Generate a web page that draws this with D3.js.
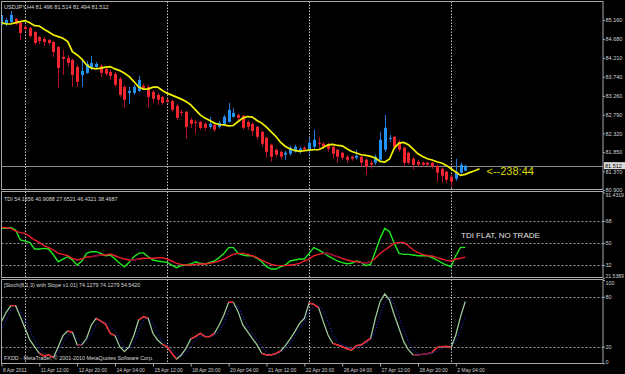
<!DOCTYPE html>
<html>
<head>
<meta charset="utf-8">
<script src="https://cdn.jsdelivr.net/npm/d3@7"></script>
<style>
  html, body { margin: 0; padding: 0; background: #000; }
  svg { display: block; font-family: "Liberation Sans", Arial, sans-serif; }
</style>
</head>
<body>
<svg id="chart" width="625" height="374"></svg>
<script>
// USDJPY H4, 99 bars from 8 Apr 2011 04:00 to 2 May 2011 12:00
const opens = [85.035, 85.06, 85.11, 85.185, 85.085, 84.985, 84.96, 84.86, 84.735, 84.685,
  84.66, 84.61, 84.485, 84.235, 84.21, 84.16, 83.985, 83.785, 83.835, 83.96,
  83.985, 84.01, 83.935, 83.86, 83.81, 83.685, 83.485, 83.335, 83.335, 83.385,
  83.51, 83.485, 83.36, 83.285, 83.235, 83.16, 83.135, 83.01, 82.86, 82.86,
  82.66, 82.61, 82.61, 82.56, 82.485, 82.535, 82.485, 82.56, 82.61, 82.735,
  82.785, 82.76, 82.61, 82.56, 82.485, 82.36, 82.21, 82.035, 81.91, 81.86,
  81.785, 81.81, 81.86, 81.86, 81.96, 81.91, 81.985, 82.085, 82.06, 82.035,
  81.985, 81.91, 81.835, 81.735, 81.735, 81.71, 81.735, 81.66, 81.585, 81.585,
  81.66, 81.91, 82.185, 82.235, 82.11, 81.96, 81.835, 81.685, 81.61, 81.585,
  81.585, 81.585, 81.51, 81.435, 81.36, 81.235, 81.185, 81.335, 81.385]
const highs = [85.335, 85.21, 85.385, 85.21, 85.135, 85.01, 84.985, 84.885, 84.76, 84.735,
  84.685, 84.635, 84.51, 84.41, 84.285, 84.185, 84.035, 84.16, 84.135, 84.26,
  84.11, 84.06, 83.985, 83.91, 83.86, 83.735, 83.535, 83.485, 83.535, 83.76,
  83.56, 83.535, 83.41, 83.335, 83.26, 83.185, 83.16, 83.06, 82.91, 82.885,
  82.71, 82.66, 82.635, 82.61, 82.735, 82.585, 82.635, 82.785, 83.085, 82.96,
  82.81, 82.785, 82.635, 82.585, 82.51, 82.385, 82.235, 82.06, 81.935, 81.885,
  81.885, 82.01, 82.035, 81.985, 82.01, 82.21, 82.41, 82.235, 82.11, 82.085,
  82.01, 81.935, 81.86, 81.785, 81.76, 81.91, 81.76, 81.685, 81.635, 81.785,
  82.36, 82.785, 82.285, 82.26, 82.16, 81.985, 81.86, 81.735, 81.66, 81.61,
  81.61, 81.61, 81.535, 81.46, 81.385, 81.285, 81.685, 81.585, 81.535]
const lows = [84.985, 85.01, 85.085, 85.035, 84.66, 84.885, 84.71, 84.535, 84.56, 84.51,
  84.535, 84.235, 83.46, 83.785, 83.985, 83.485, 83.485, 83.485, 83.81, 83.91,
  83.935, 83.735, 83.76, 83.66, 83.485, 83.235, 82.96, 83.06, 83.285, 83.36,
  83.41, 82.96, 83.085, 83.035, 83.035, 83.085, 82.86, 82.66, 82.76, 82.185,
  82.46, 82.31, 82.41, 82.385, 82.435, 82.36, 82.435, 82.51, 82.585, 82.71,
  82.66, 82.41, 82.41, 82.26, 82.16, 81.985, 81.71, 81.61, 81.71, 81.66,
  81.66, 81.76, 81.835, 81.81, 81.86, 81.785, 81.935, 81.96, 81.935, 81.86,
  81.685, 81.585, 81.66, 81.585, 81.635, 81.66, 81.485, 81.285, 81.435, 81.535,
  81.635, 81.86, 82.11, 81.91, 81.86, 81.485, 81.535, 81.41, 81.485, 81.485,
  81.485, 81.435, 81.11, 81.085, 81.085, 80.985, 81.135, 81.31, 81.385]
const closes = [85.285, 85.16, 85.285, 85.06, 84.835, 84.935, 84.76, 84.585, 84.635, 84.61,
  84.585, 84.36, 83.96, 84.185, 84.085, 83.785, 83.61, 83.885, 84.06, 84.085,
  84.06, 83.835, 83.81, 83.76, 83.535, 83.285, 83.16, 83.385, 83.485, 83.66,
  83.46, 83.235, 83.185, 83.16, 83.085, 83.11, 82.91, 82.71, 82.835, 82.485,
  82.56, 82.585, 82.46, 82.46, 82.56, 82.41, 82.585, 82.735, 82.91, 82.835,
  82.71, 82.46, 82.485, 82.385, 82.235, 82.06, 81.86, 81.735, 81.785, 81.735,
  81.835, 81.96, 81.985, 81.935, 81.91, 82.085, 82.16, 82.06, 81.985, 81.935,
  81.81, 81.735, 81.71, 81.66, 81.685, 81.76, 81.585, 81.485, 81.535, 81.735,
  82.16, 82.46, 82.21, 81.985, 81.91, 81.585, 81.585, 81.535, 81.535, 81.535,
  81.535, 81.485, 81.335, 81.26, 81.16, 81.11, 81.36, 81.535, 81.51]

// Shifted moving average (runs 3 bars past the last candle)
const maValues = [85.093, 85.06, 85.06, 85.093, 85.118, 85.143, 85.093, 85.018, 85.01, 84.928,
  84.86, 84.785, 84.743, 84.703, 84.618, 84.368, 84.285, 84.178, 84.035, 83.953,
  83.935, 83.953, 83.978, 83.993, 83.935, 83.893, 83.828, 83.743, 83.618, 83.478,
  83.428, 83.428, 83.478, 83.478, 83.393, 83.328, 83.278, 83.228, 83.178, 83.118,
  83.035, 82.91, 82.785, 82.703, 82.643, 82.578, 82.543, 82.535, 82.51, 82.518,
  82.618, 82.703, 82.743, 82.728, 82.643, 82.578, 82.478, 82.36, 82.243, 82.093,
  81.993, 81.928, 81.893, 81.868, 81.885, 81.903, 81.91, 81.91, 81.968, 82.035,
  82.043, 82.018, 82.01, 81.935, 81.868, 81.828, 81.785, 81.768, 81.743, 81.703,
  81.618, 81.603, 81.678, 81.953, 82.078, 82.093, 82.035, 81.928, 81.81, 81.743,
  81.685, 81.653, 81.61, 81.578, 81.518, 81.435, 81.353, 81.268, 81.293, 81.343,
  81.385, 81.435]

// TDI: RSI price line (green) and trade signal line (red)
const tdiRsi = [62.0, 62.0, 62.8, 60.6, 52.5, 51.6, 50.5, 45.1, 45.1, 45.6,
  45.1, 40.2, 34.7, 36.9, 38.8, 36.1, 32.0, 35.3, 41.5, 42.9,
  42.9, 41.5, 39.6, 40.2, 36.9, 33.4, 30.6, 34.2, 38.8, 41.5,
  42.1, 38.8, 36.1, 35.3, 34.7, 34.2, 32.0, 29.8, 31.5, 32.0,
  32.8, 34.7, 33.4, 32.8, 34.2, 35.3, 38.0, 41.5, 46.2, 46.2,
  41.5, 40.2, 39.6, 39.6, 37.5, 34.7, 30.6, 28.7, 28.7, 30.6,
  32.0, 35.3, 36.1, 36.9, 36.9, 41.5, 46.2, 44.3, 42.1, 39.4,
  37.5, 35.3, 33.9, 33.1, 33.4, 35.3, 34.2, 31.5, 32.6, 42.9,
  53.8, 62.0, 59.3, 49.7, 41.5, 40.7, 40.7, 40.2, 39.6, 39.6,
  39.6, 38.0, 36.1, 33.9, 32.0, 30.6, 39.6, 46.4, 46.43]
const tdiSignal = [62.8, 62.5, 62.0, 59.8, 58.5, 57.9, 55.2, 52.5, 50.5, 47.8,
  46.2, 44.3, 41.5, 40.7, 39.6, 37.5, 36.1, 36.9, 38.6, 38.8,
  39.6, 40.2, 40.2, 41.0, 39.6, 38.0, 36.9, 36.1, 36.1, 36.9,
  37.5, 37.5, 37.5, 38.0, 38.0, 36.9, 35.3, 33.4, 32.5, 32.0,
  32.0, 32.5, 32.8, 32.8, 33.4, 34.2, 35.3, 36.9, 38.8, 40.7,
  41.5, 41.5, 40.7, 39.6, 38.0, 36.1, 34.2, 32.5, 31.7, 31.5,
  31.5, 32.0, 32.5, 33.4, 35.3, 36.9, 39.6, 40.7, 41.5, 41.5,
  40.2, 38.8, 37.5, 36.1, 35.3, 34.7, 34.2, 33.6, 34.7, 37.5,
  41.5, 44.3, 47.0, 49.7, 50.5, 50.5, 47.8, 44.3, 42.1, 40.7,
  39.6, 39.4, 38.0, 36.9, 35.8, 35.3, 36.9, 37.5, 38.47]
const tdiFlatSpans = [[19, 21], [27, 29], [68, 71], [76, 78]]

// Stochastic with slope: main line and signal line
const stochMain = [50, 61.2, 69.2, 69.2, 56, 42, 28, 20, 12, 8.8,
  10, 6.8, 20, 33.2, 38.8, 37.2, 22, 22, 30, 46,
  54, 50.8, 46.8, 36, 33.2, 20, 14, 20, 34, 52,
  56, 54, 36, 28, 22.8, 20, 12, 5.2, 10, 18,
  29.2, 32, 36, 32, 32, 36, 46, 58, 73.2, 73.2,
  62, 46, 38, 30, 22, 12, 10, 10, 12, 14.8,
  21.2, 29.2, 38, 48, 54, 72.4, 70.8, 66.8, 50, 34,
  24, 22, 20, 17.2, 16, 21.2, 22, 26, 30, 54,
  74, 83.2, 76, 58, 42, 26, 16, 10, 10, 10.8,
  11.6, 13.2, 18.8, 20, 20.4, 18.8, 34, 56, 74.13]
const stochSignal = [40, 52, 64, 68, 64, 52, 40, 28, 18, 12,
  10, 8, 12, 24, 34, 37.2, 30, 24, 26, 34.8,
  46, 50, 49.2, 44, 38, 28, 18.8, 17.2, 24, 40,
  52, 54.8, 48, 36, 26.8, 22, 17.2, 10.8, 8, 12,
  20, 28, 32, 33.2, 32, 33.2, 38.8, 48, 62, 70,
  68, 56, 44, 36, 28, 20, 13.2, 10, 10.8, 13.2,
  17.2, 24, 32, 41.2, 50, 62, 69.2, 69.2, 62.8, 50,
  34.8, 26, 22, 20, 18, 18.8, 20, 24, 26.8, 38,
  58, 74, 80, 70, 56, 40, 26, 16, 12, 10,
  10.8, 12, 14.8, 18, 19.6, 20, 26, 40, 54.54]
const stochRedSpans = [[2, 3], [8, 11], [14, 15], [20, 24], [29, 31], [34, 37], [40, 45],
  [48, 49], [55, 59], [65, 67], [70, 78], [91, 95]]
const stochDarkSpans = [[16, 17], [87, 91]]

// Axes
const priceTicks = [85.16, 84.68, 84.21, 83.74, 83.26, 82.79, 82.32, 81.85, 81.37, 80.90]
const tdiTicks = [91.4319, 68, 50, 32, 21.5389]
const tdiLevels = [68, 50, 32]
const stochTicks = [100, 80, 20, 0]
const stochLevels = [80, 20]
const weekStartBars = [5, 35, 65, 95]
const timeLabelBars = [0, 8, 16, 24, 32, 40, 48, 56, 64, 72, 80, 88, 96]
const timeLabels = ['8 Apr 2011', '11 Apr 12:00', '12 Apr 20:00', '14 Apr 04:00', '15 Apr 12:00',
  '18 Apr 20:00', '20 Apr 04:00', '21 Apr 12:00', '22 Apr 20:00', '26 Apr 04:00',
  '27 Apr 12:00', '28 Apr 20:00', '2 May 04:00']
const bidPrice = 81.512

const svg = d3.select('#chart')
const plotRight = 603

const x = d3.scaleLinear().domain([-0.3, 127.1]).range([0, plotRight])
const yPrice = d3.scaleLinear().domain([80.9, 85.16]).range([190.1, 20])
const yTdi = d3.scaleLinear().domain([21.5389, 91.4319]).range([277.8, 192.4])
const yStoch = d3.scaleLinear().domain([0, 100]).range([363.3, 280])

// Three windows: price, TDI, stochastic
const panes = [
  { top: 1.5, bottom: 189.5 },
  { top: 191.5, bottom: 277.5 },
  { top: 279.5, bottom: 363.5 }
]

svg.append('rect').attr('width', 625).attr('height', 374).attr('fill', '#000')

panes.forEach((p, i) => {
  svg.append('clipPath').attr('id', 'clip' + i)
    .append('rect')
    .attr('x', 1.5).attr('y', p.top)
    .attr('width', plotRight - 1.5).attr('height', p.bottom - p.top)
})

// weekly separators, dotted
panes.forEach(p => {
  svg.append('g')
    .selectAll('line')
    .data(weekStartBars)
    .join('line')
    .attr('x1', d => Math.round(x(d)) + 0.5)
    .attr('x2', d => Math.round(x(d)) + 0.5)
    .attr('y1', p.top)
    .attr('y2', p.bottom)
    .attr('stroke', '#c8c8c8')
    .attr('stroke-dasharray', '1.5,1.5')
})

// level lines in the indicator windows
const levelLines = (levels, scale) => {
  svg.append('g')
    .selectAll('line')
    .data(levels)
    .join('line')
    .attr('x1', 1.5)
    .attr('x2', plotRight)
    .attr('y1', d => Math.round(scale(d)) + 0.5)
    .attr('y2', d => Math.round(scale(d)) + 0.5)
    .attr('stroke', '#9a9a9a')
    .attr('stroke-dasharray', '2,2')
}
levelLines(tdiLevels, yTdi)
levelLines(stochLevels, yStoch)

// bid line
svg.append('line')
  .attr('x1', 1.5).attr('x2', plotRight)
  .attr('y1', Math.round(yPrice(bidPrice)) + 0.5)
  .attr('y2', Math.round(yPrice(bidPrice)) + 0.5)
  .attr('stroke', '#8c8c8c')

// candles
const candles = opens.map((o, i) => ({ i, o, h: highs[i], l: lows[i], c: closes[i] }))
const mainG = svg.append('g').attr('clip-path', 'url(#clip0)')

mainG.append('g')
  .selectAll('line')
  .data(candles)
  .join('line')
  .attr('x1', d => Math.round(x(d.i)) + 0.5)
  .attr('x2', d => Math.round(x(d.i)) + 0.5)
  .attr('y1', d => yPrice(d.h))
  .attr('y2', d => yPrice(d.l))
  .attr('stroke', d => d.c >= d.o ? '#1f78d6' : '#b4102e')

mainG.append('g')
  .selectAll('rect')
  .data(candles)
  .join('rect')
  .attr('x', d => Math.round(x(d.i)) - 1)
  .attr('width', 3)
  .attr('y', d => yPrice(Math.max(d.o, d.c)))
  .attr('height', d => Math.max(1, Math.abs(yPrice(d.o) - yPrice(d.c))))
  .attr('fill', d => d.c >= d.o ? '#2392f5' : '#f2262e')

mainG.append('path')
  .datum(maValues)
  .attr('fill', 'none')
  .attr('stroke', '#f2f200')
  .attr('stroke-width', 1.7)
  .attr('d', d3.line().x((d, i) => x(i)).y(d => yPrice(d)))

// TDI window
const tdiG = svg.append('g').attr('clip-path', 'url(#clip1)')
const tdiLine = d3.line().x((d, i) => x(i)).y(d => yTdi(d))

tdiG.append('path')
  .datum(tdiRsi)
  .attr('fill', 'none')
  .attr('stroke', '#1ee61e')
  .attr('stroke-width', 1.4)
  .attr('d', tdiLine)

tdiG.append('path')
  .datum(tdiSignal)
  .attr('fill', 'none')
  .attr('stroke', '#f01c2c')
  .attr('stroke-width', 1.4)
  .attr('d', tdiLine)

tdiG.append('g')
  .selectAll('path')
  .data(tdiFlatSpans)
  .join('path')
  .attr('fill', 'none')
  .attr('stroke', '#8a0a3a')
  .attr('stroke-width', 1.6)
  .attr('d', ([a, b]) => d3.line().x(i => x(i)).y(i => yTdi(tdiSignal[i]))(d3.range(a, b + 1)))

// Stochastic window
const stG = svg.append('g').attr('clip-path', 'url(#clip2)')

stG.append('path')
  .datum(stochSignal)
  .attr('fill', 'none')
  .attr('stroke', '#2a2aff')
  .attr('stroke-width', 1)
  .attr('stroke-dasharray', '1,2')
  .attr('d', d3.line().x((d, i) => x(i)).y(d => yStoch(d)))

stG.append('path')
  .datum(stochMain)
  .attr('fill', 'none')
  .attr('stroke', '#9cc89c')
  .attr('stroke-width', 1.3)
  .attr('d', d3.line().x((d, i) => x(i)).y(d => yStoch(d)))

const spanPath = ([a, b]) => d3.line().x(i => x(i)).y(i => yStoch(stochMain[i]))(d3.range(a, b + 1))

stG.append('g')
  .selectAll('path')
  .data(stochRedSpans)
  .join('path')
  .attr('fill', 'none')
  .attr('stroke', '#f0202c')
  .attr('stroke-width', 1.4)
  .attr('d', spanPath)

stG.append('g')
  .selectAll('path')
  .data(stochDarkSpans)
  .join('path')
  .attr('fill', 'none')
  .attr('stroke', '#8a0a3a')
  .attr('stroke-width', 1.6)
  .attr('d', spanPath)

// window frames
panes.forEach(p => {
  svg.append('rect')
    .attr('x', 1.5).attr('y', p.top)
    .attr('width', plotRight - 1.5).attr('height', p.bottom - p.top)
    .attr('fill', 'none')
    .attr('stroke', '#a8a8a8')
})

// right-hand scales
const rightAxis = (scale, ticks, fmt) => {
  const g = svg.append('g')
    .attr('transform', `translate(${plotRight},0)`)
    .call(d3.axisRight(scale).tickValues(ticks).tickSize(2).tickPadding(0.5).tickFormat(fmt))
  g.select('.domain').remove()
  g.selectAll('line').attr('stroke', '#a8a8a8')
  g.selectAll('text')
    .attr('fill', '#d0d0d0')
    .attr('font-size', 5.5)
    .attr('font-family', '"Liberation Sans", Arial, sans-serif')
  return g
}
rightAxis(yPrice, priceTicks, d3.format('.3f'))
rightAxis(yTdi, tdiTicks, d => Number.isInteger(d) ? d : d.toFixed(4))
  .selectAll('.tick')
  .filter(d => d === tdiTicks[0] || d === tdiTicks[4])
  .select('text')
  .attr('font-size', 5.1)
  .attr('dy', d => d === tdiTicks[0] ? '0.9em' : '-0.1em')
rightAxis(yStoch, stochTicks, d => d)
  .selectAll('.tick')
  .filter(d => d === 100 || d === 0)
  .select('text')
  .attr('dy', d => d === 100 ? '0.9em' : '0.05em')

// current bid box
const bidY = yPrice(bidPrice)
svg.append('rect')
  .attr('x', plotRight + 1).attr('y', bidY - 3.5)
  .attr('width', 21).attr('height', 7)
  .attr('fill', '#dcdcdc')
svg.append('text')
  .attr('x', plotRight + 2).attr('y', bidY + 2.1)
  .attr('font-size', 5.5)
  .attr('fill', '#000')
  .text(d3.format('.3f')(bidPrice))

// time axis
const timeAxis = svg.append('g')
  .attr('transform', `translate(0,${panes[2].bottom})`)
  .call(d3.axisBottom(x).tickValues(timeLabelBars).tickSize(3).tickFormat((d, i) => timeLabels[i]))
timeAxis.select('.domain').remove()
timeAxis.selectAll('line').attr('stroke', '#a8a8a8')
timeAxis.selectAll('text')
  .attr('text-anchor', 'start')
  .attr('dx', 1)
  .attr('dy', '0.5em')
  .attr('fill', '#d0d0d0')
  .attr('font-size', 5)
  .attr('font-family', '"Liberation Sans", Arial, sans-serif')

// window captions
const caption = (txt, px, py, size, color) => svg.append('text')
  .attr('x', px).attr('y', py)
  .attr('font-size', size)
  .attr('fill', color)
  .text(txt)

caption('USDJPY,H4  81.496 81.514 81.494 81.512', 4, 8.5, 5.6, '#d8d8d8')
caption('TDI 54.1656 40.9088 27.6521 46.4321 38.4687', 4, 200.5, 5.4, '#d8d8d8')
caption('[Stoch(8,1,3) with Slope v1.01] 74.1279 74.1279 54.5420', 4, 287, 5.4, '#d8d8d8')
caption('FXDD - MetaTrader, \u00a9 2001-2010 MetaQuotes Software Corp.', 4, 360, 5.4, '#d8d8d8')
caption('<--238:44', 486.5, 175, 11, '#d8d800')
caption('TDI FLAT, NO TRADE', 461, 237.5, 8, '#e0e0e0')
</script>
</body>
</html>
